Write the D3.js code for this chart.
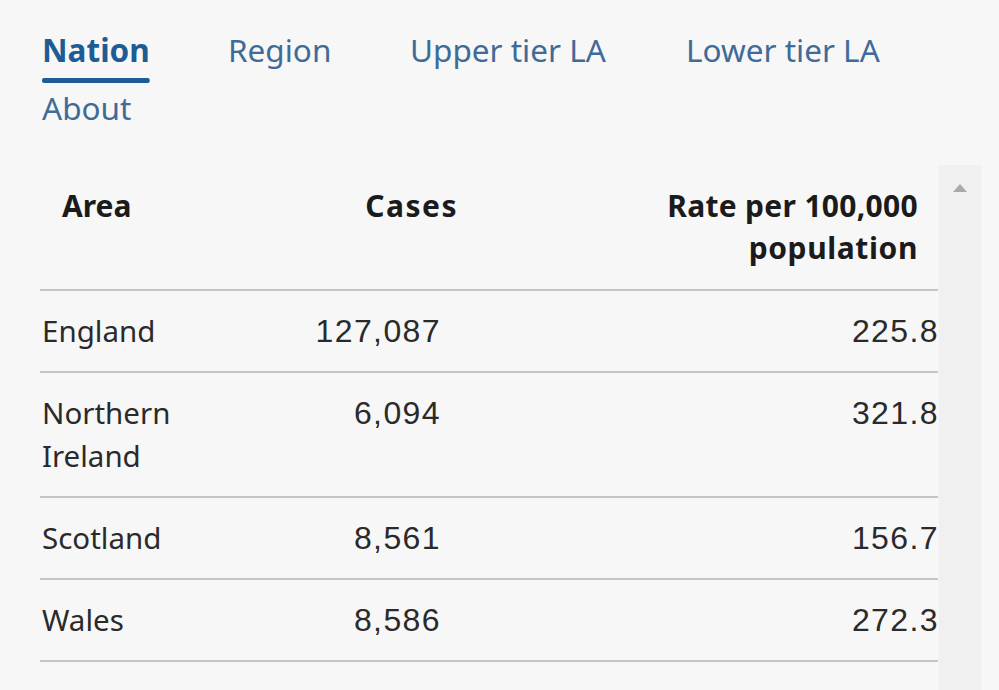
<!DOCTYPE html>
<html>
<head>
<meta charset="utf-8">
<script src="https://cdn.jsdelivr.net/npm/d3@7"></script>
<style>
  html, body { margin: 0; padding: 0; background: #f7f7f7; }
  svg { display: block; }
</style>
</head>
<body>
<div id="chart"></div>
<script>
// Nation-level case table with tab bar, drawn as SVG

var tabs = ["Nation", "Region", "Upper tier LA", "Lower tier LA", "About"];
var activeTab = "Nation";
var headers = ["Area", "Cases", "Rate per 100,000 population"];
var areas = [["England"], ["Northern", "Ireland"], ["Scotland"], ["Wales"]];
var cases = [127087, 6094, 8561, 8586];
var rates = [225.8, 321.8, 156.7, 272.3];

function renderTable() {
    var W = 999, H = 690;
    var textFont = "'Noto Sans', 'Open Sans', sans-serif";
    var numFont = "'Liberation Sans', Arial, sans-serif";
    var linkColor = "#3f6b98";
    var activeColor = "#1d5c96";
    var ink = "#1b1b1b";
    var bodyInk = "#2a2a2a";

    var svg = d3.select("#chart").append("svg")
        .attr("width", W)
        .attr("height", H);

    svg.append("rect")
        .attr("width", W).attr("height", H)
        .attr("fill", "#f7f7f7");

    // --- Tabs ---
    var tabX = [42, 228, 410, 686, 42];
    var tabY = [62, 62, 62, 62, 120];
    var tabG = svg.append("g").attr("class", "tabs");
    tabs.forEach(function(t, i) {
        var txt = tabG.append("text")
            .attr("x", tabX[i])
            .attr("y", tabY[i])
            .style("font-family", textFont)
            .style("font-size", "31.5px")
            .style("font-weight", t === activeTab ? "bold" : "normal")
            .style("fill", t === activeTab ? activeColor : linkColor)
            .text(t);
        if (t === activeTab) {
            var bb = txt.node().getBBox();
            tabG.append("rect")
                .attr("x", bb.x)
                .attr("y", tabY[i] + 16)
                .attr("width", bb.width)
                .attr("height", 5)
                .attr("rx", 2)
                .attr("fill", activeColor);
        }
    });

    // --- Scrollbar ---
    svg.append("rect")
        .attr("x", 939).attr("y", 165)
        .attr("width", 42).attr("height", H - 165)
        .attr("fill", "#f0f0f0");
    svg.append("path")
        .attr("d", "M953,192 L960,184 L967,192 Z")
        .attr("fill", "#a9a9a9");

    // --- Table ---
    var left = 40, right = 938;
    var lineH = 43, pad = 40;
    var headBase = 217;

    var table = svg.append("g").attr("class", "table");

    // header
    var headStyle = function(sel) {
        return sel.style("font-family", textFont).style("font-size", "30px")
            .style("font-weight", "bold").style("fill", ink);
    };
    table.append("text")
        .attr("x", 62).attr("y", headBase)
        .call(headStyle)
        .text(headers[0]);
    table.append("text")
        .attr("x", 458).attr("y", headBase)
        .attr("text-anchor", "end")
        .call(headStyle)
        .style("letter-spacing", "1.5px")
        .text(headers[1]);
    var rateHead = headers[2].split(" ");
    [rateHead.slice(0, 3).join(" "), rateHead.slice(3).join(" ")].forEach(function(s, i) {
        table.append("text")
            .attr("x", 918).attr("y", headBase + i * 42)
            .attr("text-anchor", "end")
            .call(headStyle)
            .style("letter-spacing", i === 0 ? "0.3px" : "0.6px")
            .text(s);
    });

    var fmt = d3.format(",");
    var rowTop = 290;
    table.append("line")
        .attr("x1", left).attr("x2", right)
        .attr("y1", rowTop).attr("y2", rowTop)
        .attr("stroke", "#c4c4c4").attr("stroke-width", 2);

    areas.forEach(function(a, i) {
        var rowH = pad + lineH * a.length - 1;
        var base = rowTop + 52;
        a.forEach(function(s, j) {
            table.append("text")
                .attr("x", 42).attr("y", base + j * lineH)
                .style("font-family", textFont).style("font-size", "29.5px")
                .style("fill", bodyInk)
                .text(s);
        });
        table.append("text")
            .attr("x", 441).attr("y", base)
            .attr("text-anchor", "end")
            .style("font-family", numFont).style("font-size", "32px")
            .style("letter-spacing", "1.4px")
            .style("fill", bodyInk)
            .text(fmt(cases[i]));
        table.append("text")
            .attr("x", 939).attr("y", base)
            .attr("text-anchor", "end")
            .style("font-family", numFont).style("font-size", "32px")
            .style("letter-spacing", "1.4px")
            .style("fill", bodyInk)
            .text(d3.format(".1f")(rates[i]));
        rowTop += rowH;
        table.append("line")
            .attr("x1", left).attr("x2", right)
            .attr("y1", rowTop).attr("y2", rowTop)
            .attr("stroke", "#c4c4c4").attr("stroke-width", 2);
    });
}

renderTable();
</script>
</body>
</html>
